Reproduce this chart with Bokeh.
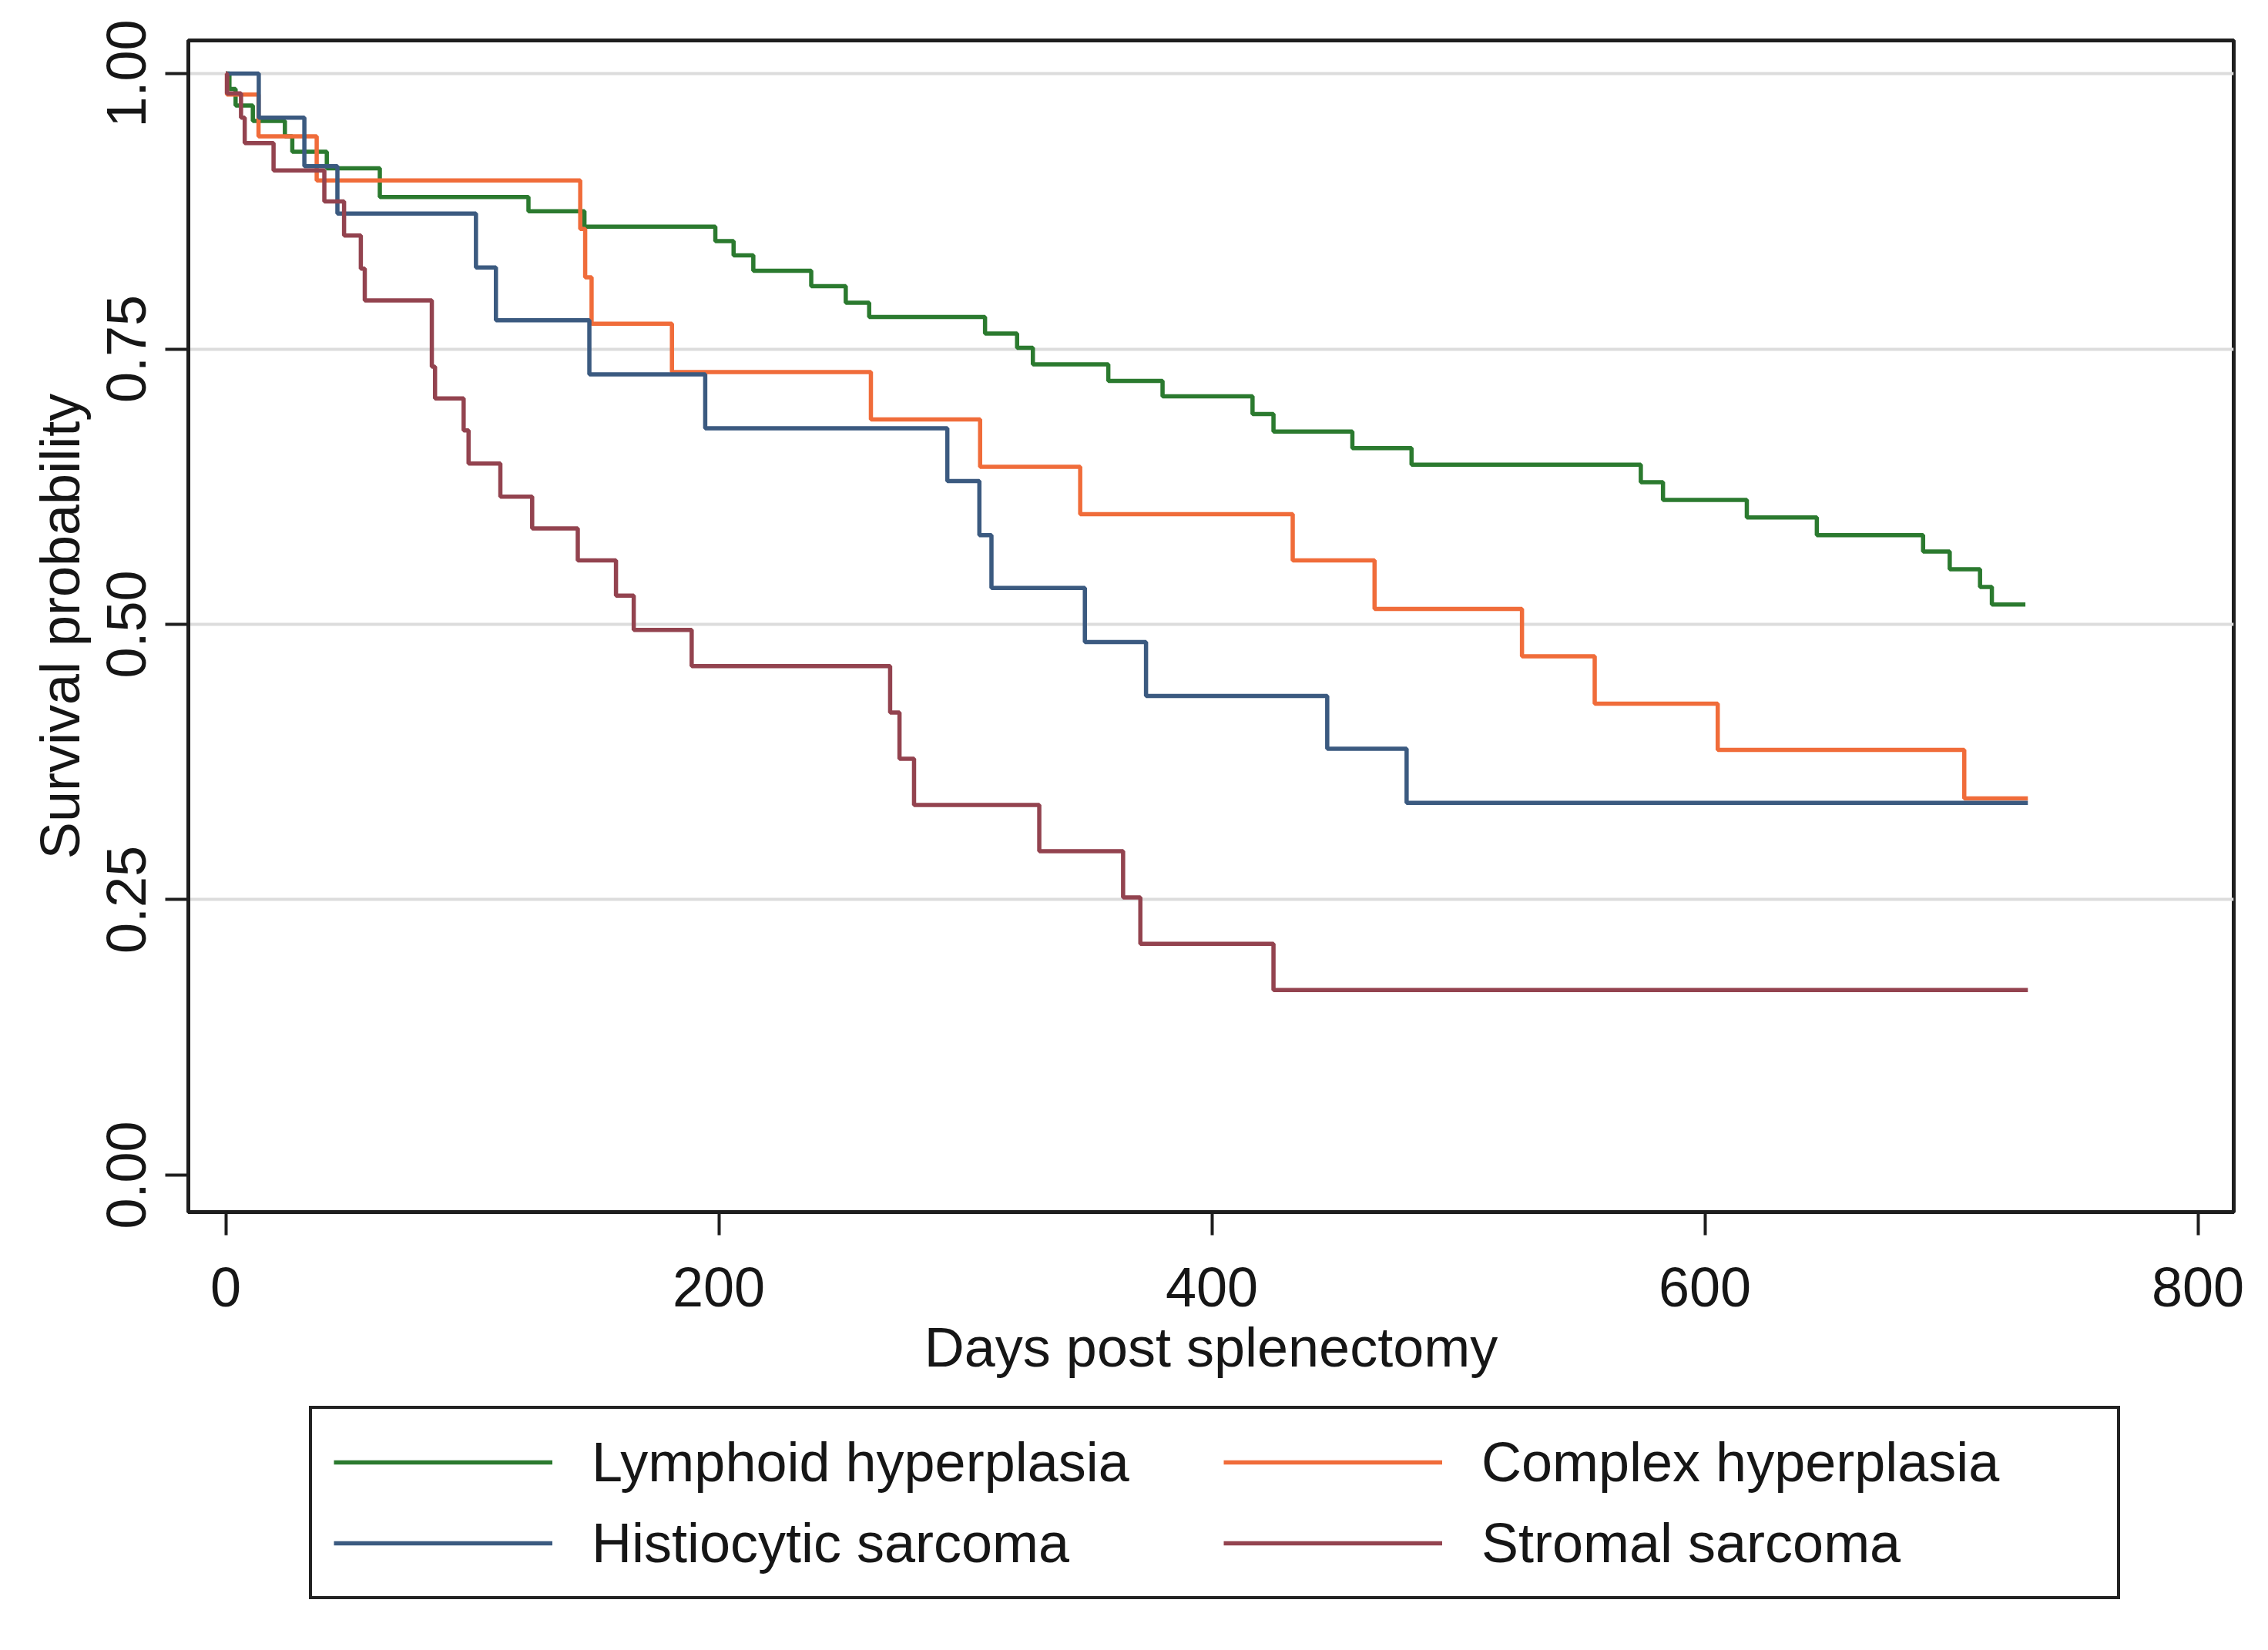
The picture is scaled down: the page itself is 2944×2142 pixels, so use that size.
from bokeh.plotting import figure
from bokeh.layouts import column
from bokeh.models import Range1d, FixedTicker, Legend, LegendItem, PrintfTickFormatter
from bokeh.embed import file_html
from bokeh.resources import INLINE

# ---- data ----
lymphoid_t = [0, 1.5, 4, 11, 24, 27, 41, 62.5, 122.8, 145.5, 198.6, 206, 214, 237.5, 251.5, 261,
              308, 321, 327.4, 358, 380, 416.5, 425, 457, 481, 574, 583, 617, 645.4, 688.5,
              699.3, 711.6, 716.4, 730]
lymphoid_s = [1.0, 0.986, 0.971, 0.957, 0.943, 0.929, 0.914, 0.888, 0.875, 0.861, 0.848, 0.835,
              0.821, 0.807, 0.792, 0.779, 0.764, 0.751, 0.736, 0.721, 0.707, 0.691, 0.675, 0.660,
              0.645, 0.629, 0.613, 0.597, 0.581, 0.566, 0.550, 0.534, 0.518, 0.518]

complex_t = [0, 0.5, 13.3, 36.9, 143.8, 145.8, 148.4, 181, 261.7, 306, 346.6, 432.8, 466,
             525.8, 555.3, 605.2, 705.2, 731]
complex_s = [1.0, 0.981, 0.943, 0.903, 0.859, 0.815, 0.773, 0.729, 0.686, 0.643, 0.600, 0.558,
             0.514, 0.471, 0.428, 0.386, 0.342, 0.342]

histio_t = [0, 13.4, 31.9, 45.3, 101.5, 109.6, 147.5, 194.5, 292.7, 305.7, 310.6, 348.5, 373.3,
            446.8, 479, 731]
histio_s = [1.0, 0.960, 0.916, 0.873, 0.824, 0.776, 0.727, 0.678, 0.630, 0.581, 0.533, 0.484,
            0.435, 0.387, 0.338, 0.338]

stromal_t = [0, 0.5, 6.2, 7.7, 19.4, 40, 48, 54.8, 56.4, 83.6, 84.9, 96.5, 98.5, 111.4, 124.3,
             142.8, 158.3, 165.5, 189, 269.5, 273.3, 279.2, 330, 364, 371, 425, 731]
stromal_s = [1.0, 0.982, 0.960, 0.937, 0.912, 0.884, 0.853, 0.823, 0.794, 0.734, 0.705, 0.676,
             0.646, 0.616, 0.587, 0.558, 0.526, 0.495, 0.462, 0.420, 0.378, 0.336, 0.294, 0.252,
             0.210, 0.168, 0.168]

series_names = ["Lymphoid hyperplasia", "Complex hyperplasia", "Histiocytic sarcoma", "Stromal sarcoma"]
series_colors = ["#2b7a2f", "#f06c3a", "#3b5a80", "#93434f"]

x_ticks = [0, 200, 400, 600, 800]
y_ticks = [0.0, 0.25, 0.5, 0.75, 1.0]
y_grid = [0.25, 0.5, 0.75, 1.0]

FONT = "Liberation Sans"
TXT = "#161616"
FS = "72px"
LW = 5.5

W = 2928
H_PLOT = 1823
H_LEG = 303

p = figure(width=W, height=H_PLOT, output_backend="svg", toolbar_location=None,
           x_range=Range1d(-15.16, 814.5), y_range=Range1d(-0.0336, 1.0301),
           min_border_left=244, min_border_right=29, min_border_top=52, min_border_bottom=250,
           background_fill_color="white", border_fill_color="white")

p.outline_line_color = "#1e1e1e"
p.outline_line_width = 5

# grid
p.xgrid.visible = False
p.ygrid.ticker = FixedTicker(ticks=y_grid)
p.ygrid.grid_line_color = "#dcdcdc"
p.ygrid.grid_line_width = 4

# axes
xa = p.xaxis[0]
xa.ticker = FixedTicker(ticks=x_ticks, minor_ticks=[])
xa.axis_label = "Days post splenectomy"
ya = p.yaxis[0]
ya.ticker = FixedTicker(ticks=y_ticks, minor_ticks=[])
ya.formatter = PrintfTickFormatter(format="%.2f")
ya.axis_label = "Survival probability"
ya.major_label_orientation = "vertical"

for ax in (xa, ya):
    ax.axis_line_color = "#1e1e1e"
    ax.axis_line_width = 5
    ax.major_tick_line_color = "#1e1e1e"
    ax.major_tick_line_width = 4
    ax.major_tick_in = 0
    ax.major_tick_out = 30
    ax.minor_tick_line_color = None
    ax.major_label_text_font = FONT
    ax.major_label_text_font_size = FS
    ax.major_label_text_color = TXT
    ax.axis_label_text_font = FONT
    ax.axis_label_text_font_size = FS
    ax.axis_label_text_font_style = "normal"
    ax.axis_label_text_color = TXT

xa.major_label_standoff = 42
xa.axis_label_standoff = 10
ya.major_label_standoff = 25
ya.axis_label_standoff = 19

# survival curves
all_t = [lymphoid_t, complex_t, histio_t, stromal_t]
all_s = [lymphoid_s, complex_s, histio_s, stromal_s]
for col, t, s in zip(series_colors, all_t, all_s):
    p.step(t, s, mode="after", line_color=col, line_width=LW)

# legend strip below the plot (its frame is aligned with the plot frame by the column layout)
pl = figure(width=W, height=H_LEG, output_backend="svg", toolbar_location=None,
            x_range=Range1d(0, 1), y_range=Range1d(0, 1),
            x_axis_location=None, y_axis_location=None,
            min_border_left=0, min_border_right=0, min_border_top=0, min_border_bottom=0,
            background_fill_color="white", border_fill_color="white", outline_line_color=None)
pl.grid.visible = False
items = []
for name, col in zip(series_names, series_colors):
    # legend keys only: these line samples sit outside the visible range of the strip
    r = pl.line(x=[-5, -4], y=[-5, -5], line_color=col, line_width=LW)
    items.append(LegendItem(label=name, renderers=[r]))

legend = Legend(items=items, orientation="horizontal", ncols=2,
                location=(157, 50),
                label_text_font=FONT, label_text_font_size=FS, label_text_color=TXT,
                glyph_width=284, glyph_height=40, label_standoff=51, label_width=797,
                padding=28, spacing=23, margin=0,
                border_line_color="#222222", border_line_width=4, border_line_alpha=1.0,
                background_fill_color="white", background_fill_alpha=1.0)
pl.add_layout(legend, "center")

layout = column(p, pl, spacing=0)
open("out.html", "w").write(file_html(layout, INLINE))
